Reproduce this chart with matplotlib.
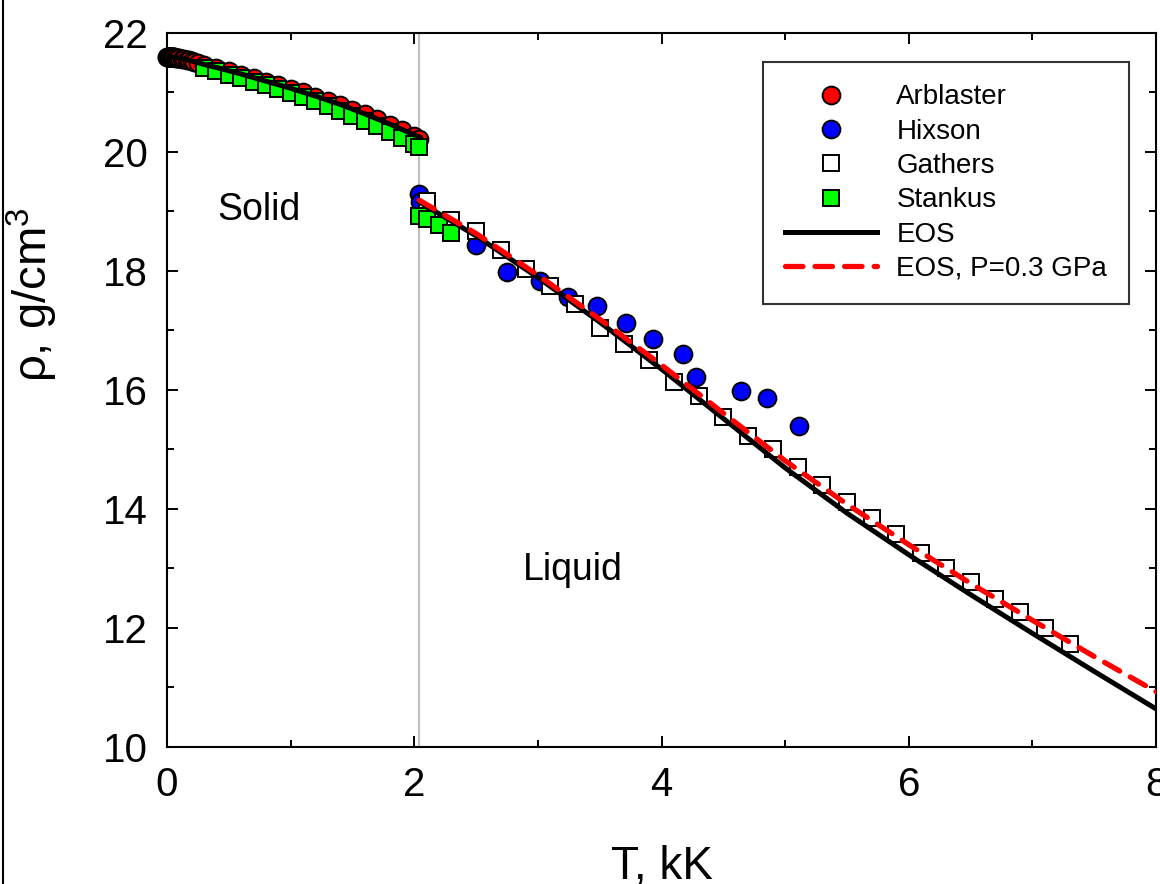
import matplotlib
matplotlib.use("Agg")
import matplotlib.pyplot as plt
from matplotlib.lines import Line2D

plt.rcParams["font.family"] = ["Liberation Sans", "DejaVu Sans"]
plt.rcParams["mathtext.fontset"] = "custom"
plt.rcParams["mathtext.rm"] = "Liberation Sans"
plt.rcParams["mathtext.default"] = "regular"

# ---------------------------------------------------------------------------
# Data (T in kK, rho in g/cm^3)
# ---------------------------------------------------------------------------
arb_T = [0.0, 0.002, 0.004, 0.006, 0.008, 0.010, 0.012, 0.015, 0.018, 0.021,
         0.024, 0.027, 0.030, 0.034, 0.038, 0.042, 0.046, 0.050, 0.055, 0.060,
         0.07, 0.08, 0.09, 0.10, 0.12, 0.14, 0.16, 0.18, 0.20, 0.22, 0.25,
         0.3, 0.4, 0.5, 0.6, 0.7, 0.8, 0.9, 1.0, 1.1, 1.2, 1.3, 1.4, 1.5, 1.6,
         1.7, 1.8, 1.9, 2.0, 2.04]
arb_rho = [21.60, 21.60, 21.60, 21.60, 21.60, 21.60, 21.60, 21.60, 21.60,
           21.60, 21.60, 21.60, 21.60, 21.60, 21.59, 21.59, 21.59, 21.59,
           21.59, 21.59, 21.58, 21.58, 21.58, 21.58, 21.57, 21.56, 21.55,
           21.54, 21.53, 21.52, 21.50,
           21.46, 21.41, 21.36, 21.30, 21.24, 21.18, 21.12, 21.06, 21.00,
           20.93, 20.86, 20.79, 20.71, 20.63, 20.55, 20.46, 20.37, 20.27,
           20.22]

hix_T = [2.04, 2.05, 2.50, 2.75, 3.02, 3.24, 3.48, 3.71, 3.93, 4.17, 4.28,
         4.64, 4.85, 5.11]
hix_rho = [19.29, 19.16, 18.44, 17.98, 17.83, 17.56, 17.41, 17.13, 16.86,
           16.61, 16.22, 15.98, 15.87, 15.39]

gat_T = [2.1, 2.3, 2.5, 2.7, 2.9, 3.1, 3.3, 3.5, 3.7, 3.9, 4.1, 4.3, 4.5, 4.7,
         4.9, 5.1, 5.3, 5.5, 5.7, 5.9, 6.1, 6.3, 6.5, 6.7, 6.9, 7.1, 7.3]
gat_rho = [19.18, 18.85, 18.67, 18.35, 18.04, 17.74, 17.45, 17.04, 16.77,
           16.50, 16.14, 15.90, 15.55, 15.23, 15.01, 14.71, 14.40, 14.12,
           13.85, 13.58, 13.26, 13.01, 12.78, 12.49, 12.27, 12.00, 11.73]

sta_T = [0.3, 0.4, 0.5, 0.6, 0.7, 0.8, 0.9, 1.0, 1.1, 1.2, 1.3, 1.4, 1.5, 1.6,
         1.7, 1.8, 1.9, 2.0, 2.04, 2.04, 2.1, 2.2, 2.3]
sta_rho = [21.41, 21.36, 21.30, 21.24, 21.18, 21.12, 21.05, 20.99, 20.92,
           20.85, 20.77, 20.69, 20.61, 20.52, 20.43, 20.33, 20.24, 20.14,
           20.08, 18.92, 18.87, 18.77, 18.64]

eos_sol_T = [0.0, 0.1, 0.2, 0.3, 0.4, 0.6, 0.8, 1.0, 1.2, 1.4, 1.6, 1.8, 2.04]
eos_sol_rho = [21.60, 21.58, 21.53, 21.47, 21.42, 21.31, 21.19, 21.07, 20.94,
               20.80, 20.64, 20.47, 20.25]

eos_liq_T = [2.04, 2.5, 3.0, 3.5, 4.0, 4.5, 5.0, 5.5, 6.0, 6.5, 7.0, 7.5, 8.0]
eos_liq_rho = [19.16, 18.59, 17.89, 17.14, 16.35, 15.52, 14.69, 13.93, 13.23,
               12.56, 11.91, 11.27, 10.64]
eos_p_rho = [19.19, 18.63, 17.93, 17.19, 16.42, 15.61, 14.81, 14.08, 13.40,
             12.75, 12.13, 11.52, 10.93]

T_melt = 2.04

# ---------------------------------------------------------------------------
fig = plt.figure(figsize=(11.6, 8.84), dpi=100)
ax = fig.add_axes([0.144, 0.155, 0.8526, 0.8077])

ax.axvline(T_melt, color="#c0c0c0", lw=1.5, zorder=0.5)

mk = dict(linestyle="none", mec="black", mew=1.4, clip_on=False)
h_arb, = ax.plot(arb_T, arb_rho, "o", ms=12.8, mfc="#ff0000", zorder=3, label="Arblaster", **mk)
h_hix, = ax.plot(hix_T, hix_rho, "o", ms=12.8, mfc="#0000ff", zorder=3.1, label="Hixson", **mk)
h_gat, = ax.plot(gat_T, gat_rho, "s", ms=11.2, mfc="white", zorder=3.2, label="Gathers", **mk)
h_sta, = ax.plot(sta_T, sta_rho, "s", ms=11.2, mfc="#00ff00", zorder=3.3, label="Stankus", **mk)

h_eos, = ax.plot(eos_sol_T, eos_sol_rho, "-", color="black", lw=3.6, zorder=5, label="EOS")
ax.plot(eos_liq_T, eos_liq_rho, "-", color="black", lw=3.6, zorder=5)
h_p, = ax.plot(eos_liq_T, eos_p_rho, "--", color="#ff0000", lw=3.8, zorder=6,
               dashes=(3.3, 2.3), dash_capstyle="round", label="EOS, P=0.3 GPa")

ax.set_xlim(0, 8)
ax.set_ylim(10, 22)
ax.set_xticks([0, 2, 4, 6, 8])
ax.set_xticks([1, 3, 5, 7], minor=True)
ax.set_yticks([10, 12, 14, 16, 18, 20, 22])
ax.set_yticks([11, 13, 15, 17, 19, 21], minor=True)
ax.tick_params(which="both", direction="in", top=True, right=True, width=1.4,
               labelsize=29)
ax.tick_params(which="major", length=8)
ax.tick_params(which="minor", length=5)
ax.tick_params(axis="x", pad=14)
ax.tick_params(axis="y", pad=14)
for sp in ax.spines.values():
    sp.set_linewidth(1.5)

ax.set_xlabel("T, kK", fontsize=33, labelpad=29)
ax.set_ylabel("ρ, g/cm$^3$", fontsize=34)
ax.yaxis.set_label_coords(-0.108, 0.633)

ax.text(0.74, 19.03, "Solid", fontsize=27, ha="center", va="center")
ax.text(3.28, 12.97, "Liquid", fontsize=27, ha="center", va="center")

leg = ax.legend(handles=[h_arb, h_hix, h_gat, h_sta, h_eos, h_p],
                loc="upper left", bbox_to_anchor=(763 / 1160, 1 - 62 / 884),
                bbox_transform=fig.transFigure, borderaxespad=0,
                fontsize=20, frameon=True, fancybox=False, handlelength=3.3,
                handletextpad=0.7, labelspacing=0.3, borderpad=0.8)
leg.get_frame().set_edgecolor("black")
leg.get_frame().set_linewidth(1.5)

# frame line at the left edge of the picture
fig.add_artist(Line2D([3 / 1160, 3 / 1160], [0, 1], transform=fig.transFigure,
                      color="black", lw=1.5))

fig.savefig("out.png", dpi=100)
